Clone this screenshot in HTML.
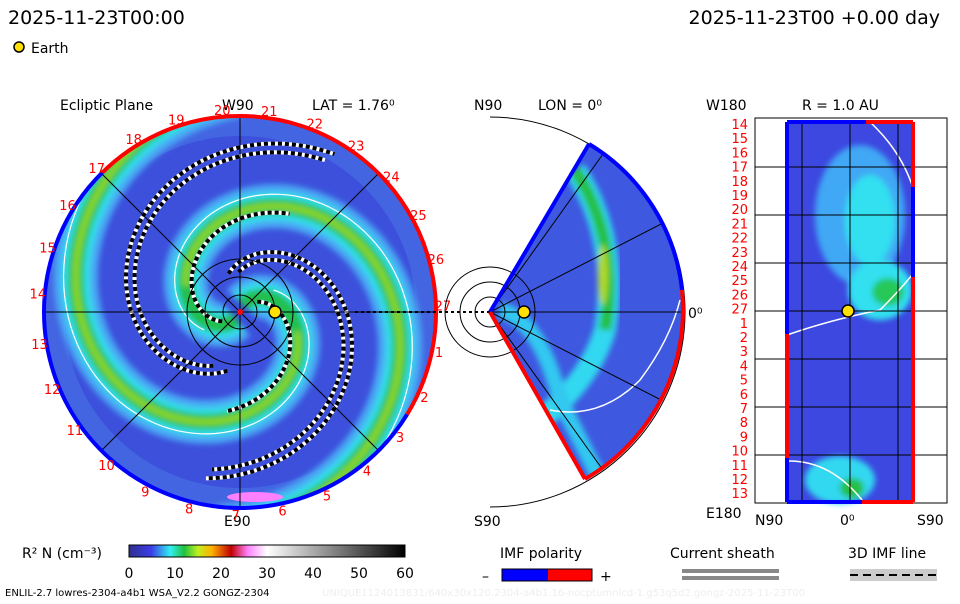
<!DOCTYPE html>
<html><head><meta charset="utf-8"><style>
body{margin:0;background:#fff;width:960px;height:600px;overflow:hidden;font-family:"DejaVu Sans","Liberation Sans",sans-serif}
svg text{font-family:"DejaVu Sans","Liberation Sans",sans-serif}
</style></head><body>
<svg id="s" width="960" height="600" viewBox="0 0 960 600" xmlns="http://www.w3.org/2000/svg">
<defs>
<clipPath id="disk"><circle cx="240" cy="312" r="196"/></clipPath>
<clipPath id="wedge"><path d="M490,312 L589,144 A195,195 0 0,1 585,479 Z"/></clipPath>
<filter id="bl"><feGaussianBlur stdDeviation="3"/></filter>
<linearGradient id="cb" x1="0" x2="1">
<stop offset="0" stop-color="#303090"/><stop offset="0.08" stop-color="#3c3ce8"/><stop offset="0.15" stop-color="#30f0f0"/>
<stop offset="0.2" stop-color="#20c040"/><stop offset="0.25" stop-color="#c0f020"/><stop offset="0.3" stop-color="#ffb000"/>
<stop offset="0.37" stop-color="#c00000"/><stop offset="0.43" stop-color="#ff80ff"/><stop offset="0.5" stop-color="#ffffff"/>
<stop offset="1" stop-color="#000000"/></linearGradient>
</defs>
<text x="8" y="24" font-size="19">2025-11-23T00:00</text>
<text x="940" y="24" font-size="19" text-anchor="end">2025-11-23T00 +0.00 day</text>
<circle cx="19" cy="47" r="5" fill="#ffe000" stroke="#000" stroke-width="1.5"/>
<text x="31" y="53" font-size="14">Earth</text>
<text x="60" y="110" font-size="14">Ecliptic Plane</text>
<text x="222" y="110" font-size="14">W90</text>
<text x="312" y="110" font-size="14">LAT = 1.76⁰</text>
<text x="224" y="526" font-size="14">E90</text>
<text x="474" y="110" font-size="14">N90</text>
<text x="538" y="110" font-size="14">LON = 0⁰</text>
<text x="474" y="526" font-size="14">S90</text>
<text x="688" y="318" font-size="14">0⁰</text>
<text x="706" y="110" font-size="14">W180</text>
<text x="802" y="110" font-size="14">R = 1.0 AU</text>
<text x="706" y="518" font-size="14">E180</text>
<text x="755" y="525" font-size="14">N90</text>
<text x="840" y="525" font-size="14">0⁰</text>
<text x="917" y="525" font-size="14">S90</text>
<g id="ecl"></g>
<g id="mer"></g>
<g id="rp"></g>
<text x="22" y="558" font-size="14">R² N (cm⁻³)</text>
<rect x="129" y="545" width="276" height="12" fill="url(#cb)" stroke="#000"/>
<g id="cbt"></g>
<text x="5" y="596" font-size="10">ENLIL-2.7 lowres-2304-a4b1 WSA_V2.2 GONGZ-2304</text>
<text x="322" y="596" font-size="10" fill="#eeeeee">UNIQUE1124013831/640x30x120.2304-a4b1.16-nocptumnlcd-1.g53q5d2.gongz-2025-11-23T00</text>
<text x="500" y="558" font-size="14">IMF polarity</text>
<text x="482" y="581" font-size="14">–</text>
<rect x="502" y="569" width="46" height="12" fill="#0000ff"/>
<rect x="548" y="569" width="44" height="12" fill="#ff0000"/>
<rect x="502" y="569" width="90" height="12" fill="none" stroke="#000"/>
<text x="600" y="581" font-size="14">+</text>
<text x="670" y="558" font-size="14">Current sheath</text>
<rect x="682" y="569" width="97" height="4" fill="#888"/>
<rect x="682" y="576" width="97" height="4" fill="#888"/>
<text x="848" y="558" font-size="14">3D IMF line</text>
<rect x="850" y="569" width="87" height="12" fill="#ccc"/>
<line x1="850" y1="575" x2="937" y2="575" stroke="#000" stroke-width="2" stroke-dasharray="8,5"/>
</svg>
<script>
const NS="http://www.w3.org/2000/svg";
const cbTicks=[0,10,20,30,40,50,60];
const sectorNums=[14,15,16,17,18,19,20,21,22,23,24,25,26,27,1,2,3,4,5,6,7,8,9,10,11,12,13];
const armPhases=[1.91,-1.35];
const sectorLines=[[0.1,60,185],[0.35,60,175],[3.3,40,170],[3.55,40,160],[2.1,20,110],[-1.1,20,100]];
function mk(t,a,p){const e=document.createElementNS(NS,t);for(const k in a)e.setAttribute(k,a[k]);(p||document.getElementById('s')).appendChild(e);return e;}
const cbx=v=>129+v/60*276;
cbTicks.forEach(v=>{const t=mk('text',{x:cbx(v),y:578,'font-size':14,'text-anchor':'middle'},document.getElementById('cbt'));t.textContent=v;

});
const E=document.getElementById('ecl');const cx=240,cy=312,R=196,k=0.028;
const g=mk('g',{'clip-path':'url(#disk)'},E);
mk('circle',{cx,cy,r:R,fill:'#3c50dc'},g);
mk('circle',{cx,cy,r:R-10,fill:'none',stroke:'#4a7ae8','stroke-width':20,opacity:0.5},g);
function spiral(ph,r0,r1){r0=r0||8;r1=r1||R+20;let d='';for(let r=r0;r<=r1;r+=2){const a=ph+r*k;d+=(r==r0?'M':'L')+(cx+r*Math.cos(a)).toFixed(1)+','+(cy+r*Math.sin(a)).toFixed(1);}return d;}
const ag=mk('g',{filter:'url(#bl)'},g);
armPhases.forEach(ph=>{
mk('path',{d:spiral(ph),fill:'none',stroke:'#4aa8f4','stroke-width':44},ag);
mk('path',{d:spiral(ph),fill:'none',stroke:'#30e0ec','stroke-width':28},ag);
const a=mk('path',{d:spiral(ph),fill:'none',stroke:'#20c050','stroke-width':16},ag);


mk('path',{d:spiral(ph,60,R+20),fill:'none',stroke:'#90d820','stroke-width':6},ag);});
armPhases.forEach(ph=>mk('path',{d:spiral(ph-0.35,40,R+20),fill:'none',stroke:'#fff','stroke-width':1.2},g));
sectorLines.forEach(s=>{const d=spiral(s[0],s[1],s[2]);
mk('path',{d,fill:'none',stroke:'#fff','stroke-width':4},g);
const p=mk('path',{d,fill:'none',stroke:'#000','stroke-width':4,'stroke-dasharray':'4,3'},g);

});
mk('ellipse',{cx:255,cy:497,rx:28,ry:5,fill:'#ff80ff'},g);
[-45,45].forEach(a=>{const r=a*Math.PI/180;mk('line',{x1:cx-R*Math.cos(r),y1:cy-R*Math.sin(r),x2:cx+R*Math.cos(r),y2:cy+R*Math.sin(r),stroke:'#000','stroke-width':1},g);});
mk('line',{x1:cx-R,y1:cy,x2:cx+R,y2:cy,stroke:'#000'},g);mk('line',{x1:cx,y1:cy-R,x2:cx,y2:cy+R,stroke:'#000'},g);
[17,35,53].forEach(r=>mk('circle',{cx,cy,r,fill:'none',stroke:'#000'},g));
mk('path',{d:`M${cx-R},${cy} A${R},${R} 0 0,1 ${cx+R*Math.cos(-2.35)},${cy+R*Math.sin(-2.35)}`,fill:'none',stroke:'#0000ff','stroke-width':4},E);
mk('path',{d:`M${cx+R*Math.cos(-2.35)},${cy+R*Math.sin(-2.35)} A${R},${R} 0 0,1 ${cx+R*Math.cos(0.55)},${cy+R*Math.sin(0.55)}`,fill:'none',stroke:'#ff0000','stroke-width':4},E);
mk('path',{d:`M${cx+R*Math.cos(0.55)},${cy+R*Math.sin(0.55)} A${R},${R} 0 0,1 ${cx-R},${cy}`,fill:'none',stroke:'#0000ff','stroke-width':4},E);
mk('line',{x1:355,y1:cy,x2:490,y2:cy,stroke:'#000','stroke-width':2,'stroke-dasharray':'3,3'},E);
mk('circle',{cx:cx,cy:cy,r:3,fill:'#f00'},E);
const ea=mk('circle',{cx:275,cy:312,r:6,fill:'#ffe000',stroke:'#000','stroke-width':1.5},E);


sectorNums.forEach((n,i)=>{const a=(-95+(i-6)*13.3)*Math.PI/180;const t=mk('text',{x:cx+203*Math.cos(a),y:cy+203*Math.sin(a)+5,'font-size':13,fill:'#ff0000','text-anchor':'middle'},E);t.textContent=n;

});
const M=document.getElementById('mer');const mx=490,my=312,MR=195;
mk('path',{d:`M${mx},${my-MR} A${MR},${MR} 0 0,1 ${mx},${my+MR}`,fill:'none',stroke:'#000'},M);
const mg=mk('g',{'clip-path':'url(#wedge)'},M);
mk('rect',{x:480,y:130,width:220,height:360,fill:'#3e58e0'},mg);
const mb=mk('g',{filter:'url(#bl)'},mg);
mk('path',{d:'M575,170 Q620,240 605,330 Q590,380 540,420',fill:'none',stroke:'#30d8f0','stroke-width':22},mb);
mk('path',{d:'M575,170 Q620,240 605,330',fill:'none',stroke:'#28c040','stroke-width':12},mb);
mk('ellipse',{cx:603,cy:275,rx:5,ry:30,fill:'#b0d820'},mb);
mk('path',{d:'M500,310 Q540,320 560,400 L600,480',fill:'none',stroke:'#30c8f0','stroke-width':16},mb);
mk('path',{d:'M550,410 Q600,420 640,380 Q670,340 680,300',fill:'none',stroke:'#fff','stroke-width':1.5},mg);
[-1,-0.5,0,0.5,1].forEach(a=>mk('line',{x1:mx,y1:my,x2:mx+MR*Math.cos(a*0.95),y2:my+MR*Math.sin(a*0.95),stroke:'#000'},mg));
[15,30,45].forEach(r=>mk('circle',{cx:mx,cy:my,r,fill:'none',stroke:'#000'},M));
mk('line',{x1:mx,y1:my,x2:589,y2:144,stroke:'#0000ff','stroke-width':4},M);
mk('line',{x1:mx,y1:my,x2:585,y2:479,stroke:'#ff0000','stroke-width':4},M);
mk('path',{d:`M589,144 A${MR},${MR} 0 0,1 682,290`,fill:'none',stroke:'#0000ff','stroke-width':4},M);
mk('path',{d:`M682,290 A${MR},${MR} 0 0,1 585,479`,fill:'none',stroke:'#ff0000','stroke-width':4},M);
mk('circle',{cx:524,cy:312,r:6,fill:'#ffe000',stroke:'#000','stroke-width':1.5},M);
const P=document.getElementById('rp');
mk('rect',{x:755,y:118,width:192,height:385,fill:'#fff',stroke:'#000'},P);
mk('rect',{x:786,y:122,width:128,height:380,fill:'#3c48e0'},P);
const pb=mk('g',{filter:'url(#bl)'},P);
mk('ellipse',{cx:860,cy:215,rx:45,ry:70,fill:'#40a8f4'},pb);
mk('ellipse',{cx:870,cy:220,rx:25,ry:45,fill:'#30e0f0'},pb);
mk('ellipse',{cx:880,cy:290,rx:32,ry:30,fill:'#30e0f0'},pb);
mk('ellipse',{cx:888,cy:292,rx:16,ry:14,fill:'#28c858'},pb);
mk('ellipse',{cx:840,cy:480,rx:35,ry:24,fill:'#30d8f0'},pb);
mk('ellipse',{cx:852,cy:488,rx:12,ry:10,fill:'#28c040'},pb);
mk('path',{d:'M787,335 Q830,320 880,310 Q900,290 912,275',fill:'none',stroke:'#fff','stroke-width':1.5},P);
mk('path',{d:'M870,122 Q900,150 912,185',fill:'none',stroke:'#fff','stroke-width':1.5},P);
mk('path',{d:'M787,461 Q830,460 862,500',fill:'none',stroke:'#fff','stroke-width':1.5},P);
[167,215,263,311,359,407,455].forEach(y=>mk('line',{x1:755,y1:y,x2:947,y2:y,stroke:'#000'},P));
[802,850,898].forEach(x=>mk('line',{x1:x,y1:122,x2:x,y2:502,stroke:'#000'},P));
mk('line',{x1:787,y1:122,x2:787,y2:334,stroke:'#0000ff','stroke-width':4},P);
mk('line',{x1:787,y1:334,x2:787,y2:458,stroke:'#ff0000','stroke-width':4},P);
mk('line',{x1:787,y1:458,x2:787,y2:502,stroke:'#0000ff','stroke-width':4},P);
mk('line',{x1:913,y1:122,x2:913,y2:187,stroke:'#ff0000','stroke-width':4},P);
mk('line',{x1:913,y1:187,x2:913,y2:277,stroke:'#0000ff','stroke-width':4},P);
mk('line',{x1:913,y1:277,x2:913,y2:502,stroke:'#ff0000','stroke-width':4},P);
mk('line',{x1:787,y1:122,x2:866,y2:122,stroke:'#0000ff','stroke-width':4},P);
mk('line',{x1:866,y1:122,x2:913,y2:122,stroke:'#ff0000','stroke-width':4},P);
mk('line',{x1:787,y1:502,x2:862,y2:502,stroke:'#0000ff','stroke-width':4},P);
mk('line',{x1:862,y1:502,x2:913,y2:502,stroke:'#ff0000','stroke-width':4},P);
mk('circle',{cx:848,cy:311,r:6,fill:'#ffe000',stroke:'#000','stroke-width':1.5},P);
sectorNums.forEach((n,i)=>{const t=mk('text',{x:748,y:129+i*14.2,'font-size':13,fill:'#ff0000','text-anchor':'end'},P);t.textContent=n;

});
</script>
</body></html>
